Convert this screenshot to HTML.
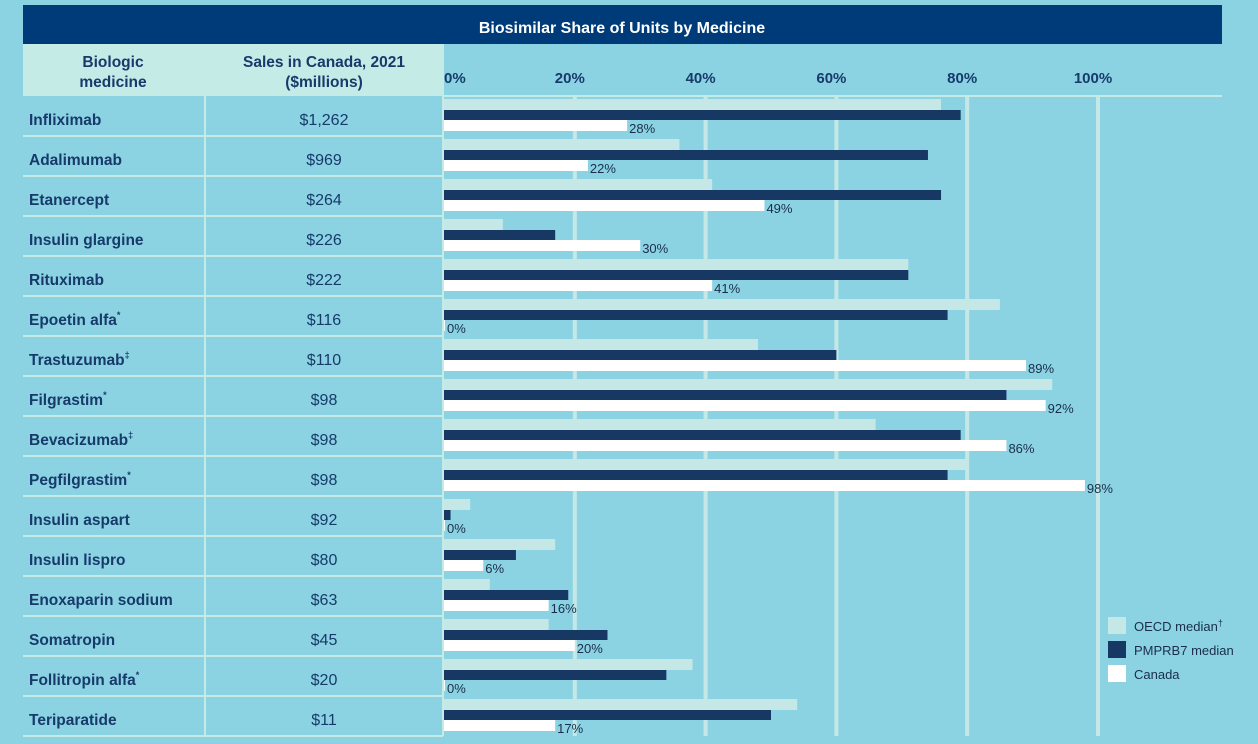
<!DOCTYPE html>
<html><head><meta charset="utf-8">
<style>
body{margin:0;width:1258px;height:744px;background:#8bd3e3;overflow:hidden;font-family:"Liberation Sans",sans-serif;}
svg{display:block}
</style></head><body>
<svg id="chart" width="1258" height="744" xmlns="http://www.w3.org/2000/svg">
<rect x="0" y="0" width="1258" height="744" fill="#8bd3e3"/>
<rect x="23" y="5" width="1199" height="39" fill="#003b79"/>
<text x="622" y="33" text-anchor="middle" fill="#fff" font-size="16" font-weight="bold">Biosimilar Share of Units by Medicine</text>
<rect x="23" y="44" width="420" height="52" fill="#c5ebe6"/>
<text x="113" y="67" text-anchor="middle" fill="#173a6b" font-size="15.5" font-weight="bold"><tspan x="113">Biologic</tspan><tspan x="113" dy="20">medicine</tspan></text>
<text x="324" y="67" text-anchor="middle" fill="#173a6b" font-size="15.5" font-weight="bold"><tspan x="324">Sales in Canada, 2021</tspan><tspan x="324" dy="20">($millions)</tspan></text>
<line x1="205" y1="44" x2="205" y2="736" stroke="#c5ebe6" stroke-width="2"/>
<line x1="443" y1="44" x2="443" y2="736" stroke="#c5ebe6" stroke-width="2"/>
<line x1="443" y1="96" x2="1222" y2="96" stroke="#c5ebe6" stroke-width="2"/>
<g id="grid"></g><g id="rows"></g><g id="bars"></g><g id="ticks"></g>
<g>
<rect x="1108" y="617" width="18" height="17" fill="#c5e8e6"/>
<text x="1134" y="631" font-size="13" fill="#1a2e4a">OECD median<tspan font-size="9" dy="-5">†</tspan></text>
<rect x="1108" y="641" width="18" height="17" fill="#183864"/>
<text x="1134" y="655" font-size="13" fill="#1a2e4a">PMPRB7 median</text>
<rect x="1108" y="665" width="18" height="17" fill="#ffffff"/>
<text x="1134" y="679" font-size="13" fill="#1a2e4a">Canada</text>
</g>
</svg>
<script>
const medicines=["Infliximab","Adalimumab","Etanercept","Insulin glargine","Rituximab","Epoetin alfa","Trastuzumab","Filgrastim","Bevacizumab","Pegfilgrastim","Insulin aspart","Insulin lispro","Enoxaparin sodium","Somatropin","Follitropin alfa","Teriparatide"];
const marks=["","","","","","*","‡","*","‡","*","","","","","*",""];
const sales=["$1,262","$969","$264","$226","$222","$116","$110","$98","$98","$98","$92","$80","$63","$45","$20","$11"];
const oecd=[76,36,41,9,71,85,48,93,66,80,4,17,7,16,38,54];
const pmprb7=[79,74,76,17,71,77,60,86,79,77,1,11,19,25,34,50];
const canada=[28,22,49,30,41,0,89,92,86,98,0,6,16,20,0,17];
const tickValues=[0,20,40,60,80,100];
const tickLabels=["0%","20%","40%","60%","80%","100%"];

const NS="http://www.w3.org/2000/svg";
const x0=444,pxPer=6.54;
function xs(v){return x0+v*pxPer;}
function rowTop(i){return 96+40*i;}
function mk(tag,attrs,parent){const e=document.createElementNS(NS,tag);for(const k in attrs)e.setAttribute(k,attrs[k]);parent.appendChild(e);return e;}
const grid=document.getElementById('grid'),rows=document.getElementById('rows'),bars=document.getElementById('bars'),ticks=document.getElementById('ticks');
tickValues.forEach((v,i)=>{
  if(i>0){const l=mk('rect',{x:xs(v)-2,y:97,width:4,height:639,fill:'#c5e8e6'},grid);
  
  }
  const t=mk('text',{x:i==0?x0:xs(v)-5,y:83,'text-anchor':i==0?'start':'middle','font-size':'15','font-weight':'bold',fill:'#173a6b'},ticks);
  t.textContent=tickLabels[i];
  
  
});
medicines.forEach((m,i)=>{
  const top=rowTop(i);
  const ln=mk('line',{x1:23,y1:top+40,x2:443,y2:top+40,stroke:'#c5ebe6','stroke-width':2},rows);
  
  
  const n=mk('text',{x:29,y:top+29,'font-size':'15.5','font-weight':'bold',fill:'#173a6b'},rows);
  n.textContent=m;
  if(marks[i]){const s=mk('tspan',{'font-size':'9',dy:'-7'},n);s.textContent=marks[i];}
  
  
  const s=mk('text',{x:324,y:top+29,'text-anchor':'middle','font-size':'16',fill:'#173a6b'},rows);
  s.textContent=sales[i];
  
  
  const b1=mk('rect',{x:x0,y:top+3,width:Math.max(1,xs(oecd[i])-x0),height:11,fill:'#c5e8e6'},bars);
  
  
  const b2=mk('rect',{x:x0,y:top+14,width:Math.max(1,xs(pmprb7[i])-x0),height:10,fill:'#183864'},bars);
  
  
  const b3=mk('rect',{x:x0,y:top+24,width:Math.max(1,xs(canada[i])-x0),height:11,fill:'#ffffff'},bars);
  
  
  const lb=mk('text',{x:Math.max(x0+1,xs(canada[i]))+2,y:top+37,'font-size':'13',fill:'#1a2e4a'},bars);
  lb.textContent=canada[i]+'%';
  
  
});
</script>
</body></html>
